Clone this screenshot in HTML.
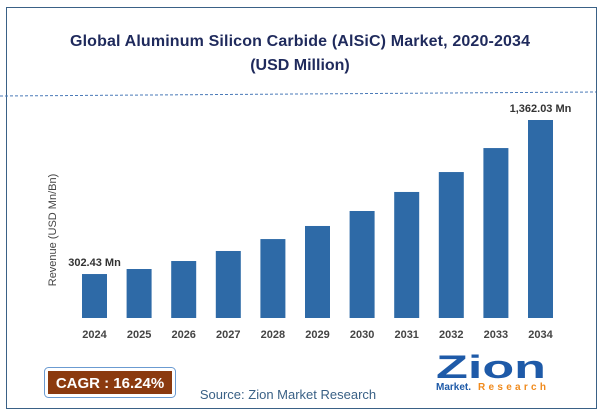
<!DOCTYPE html>
<html><head><meta charset="utf-8"><style>
body{margin:0;width:600px;height:415px;background:#fff;font-family:"Liberation Sans",sans-serif;overflow:hidden}
</style></head><body>
<svg width="600" height="415" xmlns="http://www.w3.org/2000/svg">
<rect x="6.5" y="7.5" width="590" height="401" fill="#fff" stroke="#3a6186" stroke-width="1"/>
<text x="300" y="46" text-anchor="middle" font-size="16" font-weight="bold" fill="#1f2a5c" textLength="460">Global Aluminum Silicon Carbide (AlSiC) Market, 2020-2034</text>
<text x="300" y="70" text-anchor="middle" font-size="16" font-weight="bold" fill="#1f2a5c">(USD Million)</text>
<line x1="0" y1="96" x2="596" y2="92" stroke="#4a7ab8" stroke-dasharray="3,2"/>
<text x="56" y="230" transform="rotate(-90 56 230)" text-anchor="middle" font-size="11" fill="#444">Revenue (USD Mn/Bn)</text>
<g id="bars"></g>
<rect x="44.5" y="367.5" width="131" height="30" rx="4" fill="#fff" stroke="#6b9bd1"/>
<rect x="48" y="371" width="124" height="23" fill="#8b3a0f"/>
<text x="110" y="388" text-anchor="middle" font-size="15" font-weight="bold" fill="#fff">CAGR : 16.24%</text>
<text x="288" y="399" text-anchor="middle" font-size="13" fill="#3a6186">Source: Zion Market Research</text>
<g>
<text x="436" y="378" font-size="32" font-weight="bold" fill="#1e5aa8" textLength="110" lengthAdjust="spacingAndGlyphs">Zion</text>
<text x="436" y="390" font-size="10" font-weight="bold" fill="#1e5aa8">Market.</text>
<text x="478" y="390" font-size="10" font-weight="bold" fill="#f08a1c" textLength="68">Research</text>
</g>
</svg>
<script>
const categories=["2024","2025","2026","2027","2028","2029","2030","2031","2032","2033","2034"];
const values=[302.43,337,392,461,543,633,736,867,1004,1169,1362.03];
const labels={0:"302.43 Mn",10:"1,362.03 Mn"};
const base=318, x0=82, step=44.6, bw=25, k=198/1362.03;
const g=document.getElementById('bars');
const ns="http://www.w3.org/2000/svg";
const xs=i=>x0+i*step, ys=v=>base-v*k;
categories.forEach((c,i)=>{
 const r=document.createElementNS(ns,'rect');
 r.setAttribute('x',xs(i));r.setAttribute('y',ys(values[i]));
 r.setAttribute('width',bw);r.setAttribute('height',base-ys(values[i]));
 r.setAttribute('fill','#2e6aa7');
 
 
 g.appendChild(r);
 const t=document.createElementNS(ns,'text');
 t.setAttribute('x',xs(i)+bw/2);t.setAttribute('y',base+20);
 t.setAttribute('text-anchor','middle');t.setAttribute('font-size','11');
 t.setAttribute('font-weight','bold');t.setAttribute('fill','#444');
 t.textContent=c;
 
 
 g.appendChild(t);
 if(labels[i]){
  const l=document.createElementNS(ns,'text');
  l.setAttribute('x',xs(i)+bw/2);l.setAttribute('y',ys(values[i])-8);
  l.setAttribute('text-anchor','middle');l.setAttribute('font-size','11');
  l.setAttribute('font-weight','bold');l.setAttribute('fill','#333');
  l.textContent=labels[i];
  
  
  g.appendChild(l);
 }
});
</script>
</body></html>
